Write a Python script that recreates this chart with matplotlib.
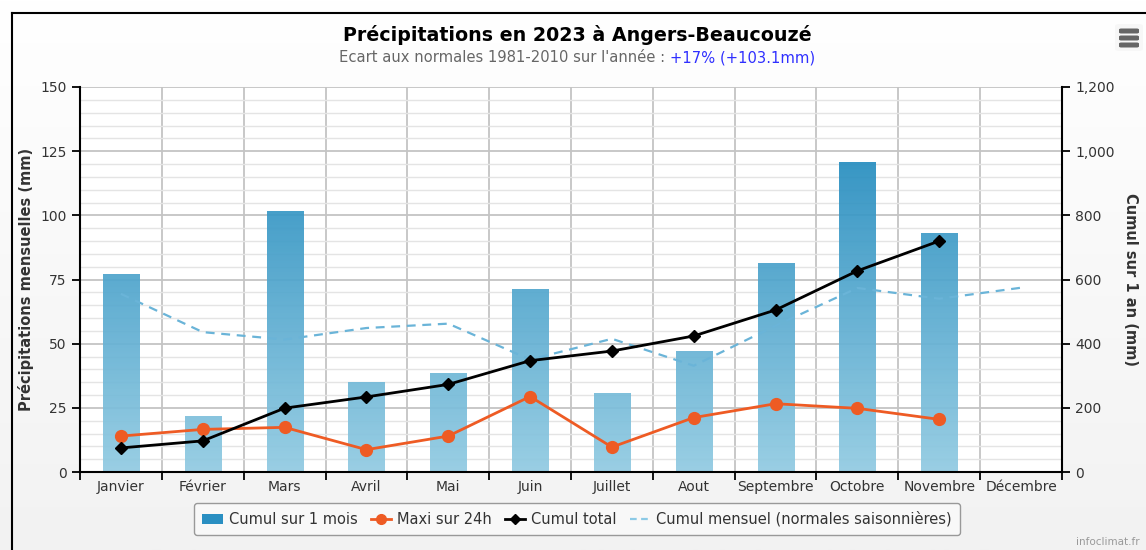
import numpy as np
import matplotlib
matplotlib.use('Agg')
import matplotlib.pyplot as plt
from matplotlib.colors import LinearSegmentedColormap
from matplotlib.lines import Line2D
from matplotlib.patches import Patch, FancyBboxPatch
from matplotlib.ticker import FuncFormatter, MultipleLocator, FixedLocator

# ---------------- data ----------------
months = ["Janvier", "Février", "Mars", "Avril", "Mai", "Juin", "Juillet",
          "Aout", "Septembre", "Octobre", "Novembre", "Décembre"]
cumul_mois = [77.0, 21.8, 101.6, 35.1, 38.7, 71.2, 30.8, 47.3, 81.3, 120.6, 93.1]
maxi_24h = [14.0, 16.6, 17.4, 8.7, 14.0, 29.4, 9.7, 21.2, 26.6, 24.8, 20.5]
cumul_total = [75, 97, 199, 234, 273, 347, 377, 424, 505, 627, 720]
normales = [69.4, 54.5, 51.6, 56.1, 57.8, 43.8, 51.9, 41.4, 57.0, 71.7, 67.5, 71.8]

title = "Précipitations en 2023 à Angers-Beaucouzé"
sub_gray = "Ecart aux normales 1981-2010 sur l'année : "
sub_blue = "+17% (+103.1mm)"

plt.rcParams['font.family'] = ['DejaVu Sans']

W, H = 1146, 550
fig = plt.figure(figsize=(W / 100, H / 100), dpi=100)

# background gradient
bg = fig.add_axes([0, 0, 1, 1], zorder=-10)
bg.axis('off')
g = np.linspace(0, 1, 256).reshape(-1, 1)
bg_cmap = LinearSegmentedColormap.from_list('bg', ['#ffffff', '#f2f2f2'])
bg.imshow(g, cmap=bg_cmap, aspect='auto', extent=[0, 1, 0, 1], origin='upper')
bg.set_xlim(0, 1)
bg.set_ylim(0, 1)
# frame
fig.add_artist(Line2D([12 / W, 12 / W], [0, 1 - 13 / H], color='black', lw=1.5))
fig.add_artist(Line2D([12 / W, 1], [1 - 13 / H, 1 - 13 / H], color='black', lw=1.5))

# main axes
L, R, T, B = 80, 1062, 87, 472
ax = fig.add_axes([L / W, 1 - B / H, (R - L) / W, (B - T) / H])
ax.set_facecolor('white')
ax.set_xlim(-0.5, 11.5)
ax.set_ylim(0, 150)

x = np.arange(len(months))
xb = x[:len(cumul_mois)]
bw = 0.44
bars = ax.bar(xb, cumul_mois, width=bw, facecolor='none', edgecolor='none', zorder=2)
bar_cmap = LinearSegmentedColormap.from_list('bars', ['#92cbe2', '#0f80b8'])
for b in bars:
    im = ax.imshow(g, cmap=bar_cmap, origin='lower', aspect='auto',
                   extent=[b.get_x(), b.get_x() + b.get_width(), 0, 150],
                   zorder=2, alpha=0.93)
    im.set_clip_path(b)
ax.set_xlim(-0.5, 11.5)
ax.set_ylim(0, 150)

ax.plot(x, normales, color='#6ab4d8', lw=1.6, dashes=(4, 3), zorder=3)
ax.plot(xb, maxi_24h, color='#ee5b24', lw=2, marker='o', markersize=8.5, zorder=4)

# grid / ticks
ax.yaxis.set_major_locator(MultipleLocator(25))
ax.yaxis.set_minor_locator(MultipleLocator(5))
ax.xaxis.set_major_locator(FixedLocator(np.arange(-0.5, 12, 1)))
ax.xaxis.set_minor_locator(FixedLocator(x))
ax.xaxis.set_major_formatter(FuncFormatter(lambda v, p: ''))
ax.set_xticklabels(months, minor=True)
ax.grid(True, which='major', axis='y', color='#c4c4c4', lw=1.3, zorder=0)
ax.grid(True, which='minor', axis='y', color='#e4e4e4', lw=1.0, zorder=0)
ax.grid(True, which='major', axis='x', color='#c4c4c4', lw=1.3, zorder=0)
ax.set_axisbelow(True)
ax.tick_params(axis='x', which='major', length=6, width=1.3, color='black', direction='out')
ax.tick_params(axis='x', which='minor', length=0, labelsize=10, labelcolor='#333333', pad=6)
ax.tick_params(axis='y', which='major', length=6, width=1.3, color='black',
               labelsize=10, labelcolor='#333333')
ax.tick_params(axis='y', which='minor', length=0)
for s in ['top', 'right']:
    ax.spines[s].set_visible(False)
for s in ['left', 'bottom']:
    ax.spines[s].set_color('black')
    ax.spines[s].set_linewidth(1.5)
ax.set_ylabel('Précipitations mensuelles (mm)', fontsize=10.5, fontweight='bold', color='#333333',
              va='center')
ax.yaxis.set_label_coords(-(L - 26) / (R - L), 0.5)

ax2 = ax.twinx()
ax2.set_ylim(0, 1200)
ax2.yaxis.set_major_locator(MultipleLocator(200))
ax2.yaxis.set_major_formatter(FuncFormatter(lambda v, p: f"{int(v):,}"))
ax2.plot(xb, cumul_total, color='black', lw=2, marker='D', markersize=6, zorder=5)
ax2.tick_params(axis='y', length=6, width=1.3, color='black', labelsize=10, labelcolor='#333333')
for s in ['top', 'left', 'bottom']:
    ax2.spines[s].set_visible(False)
ax2.spines['right'].set_color('black')
ax2.spines['right'].set_linewidth(1.5)
ax2.set_ylabel('Cumul sur 1 an (mm)', fontsize=10.5, fontweight='bold', color='#333333',
               rotation=270, va='center')
ax2.yaxis.set_label_coords(1 + (1130 - R) / (R - L), 0.5)

# title
fig.text(577 / W, 1 - 35 / H, title, ha='center', va='center', fontsize=13.7,
         fontweight='bold', color='black')
fig.canvas.draw()
r = fig.canvas.get_renderer()
t1 = fig.text(0, 1 - 58 / H, sub_gray, ha='left', va='center', fontsize=10.6, color='#666666')
t2 = fig.text(0, 1 - 58 / H, sub_blue, ha='left', va='center', fontsize=10.6, color='#2f2fff')
w1 = t1.get_window_extent(r).width
w2 = t2.get_window_extent(r).width
x0 = 577 - (w1 + w2) / 2
t1.set_x(x0 / W)
t2.set_x((x0 + w1) / W)

# legend
handles = [
    Patch(facecolor='#2a8fc2', edgecolor='none', label='Cumul sur 1 mois'),
    Line2D([], [], color='#ee5b24', lw=2, marker='o', markersize=7, label='Maxi sur 24h'),
    Line2D([], [], color='black', lw=2, marker='D', markersize=5, label='Cumul total'),
    Line2D([], [], color='#8ccae6', lw=1.6, dashes=(3, 2), label='Cumul mensuel (normales saisonnières)'),
]
leg = fig.legend(handles=handles, loc='center', bbox_to_anchor=(577 / W, 1 - 519 / H), ncol=4,
                 fontsize=10.5, frameon=True, fancybox=True, edgecolor='#999999',
                 facecolor='#f8f8f8', framealpha=1, handlelength=1.4, handletextpad=0.4,
                 columnspacing=0.9, borderpad=0.55)
for t in leg.get_texts():
    t.set_color('#333333')

fig.text(1140 / W, 1 - 542 / H, 'infoclimat.fr', ha='right', va='center', fontsize=7.5, color='#999999')

# menu icon
fig.add_artist(FancyBboxPatch((1115 / W, 1 - 51 / H), 28 / W, 27 / H,
                              boxstyle='round,pad=0,rounding_size=0.004',
                              facecolor='#f7f7f7', edgecolor='none',
                              transform=fig.transFigure))
for yy in [31, 38, 45]:
    fig.add_artist(FancyBboxPatch(((1119) / W, 1 - (yy + 2.5) / H), 20 / W, 5 / H,
                                  boxstyle='round,pad=0,rounding_size=0.002',
                                  facecolor='#666666', edgecolor='none',
                                  transform=fig.transFigure))

fig.savefig('out.png', dpi=100)
